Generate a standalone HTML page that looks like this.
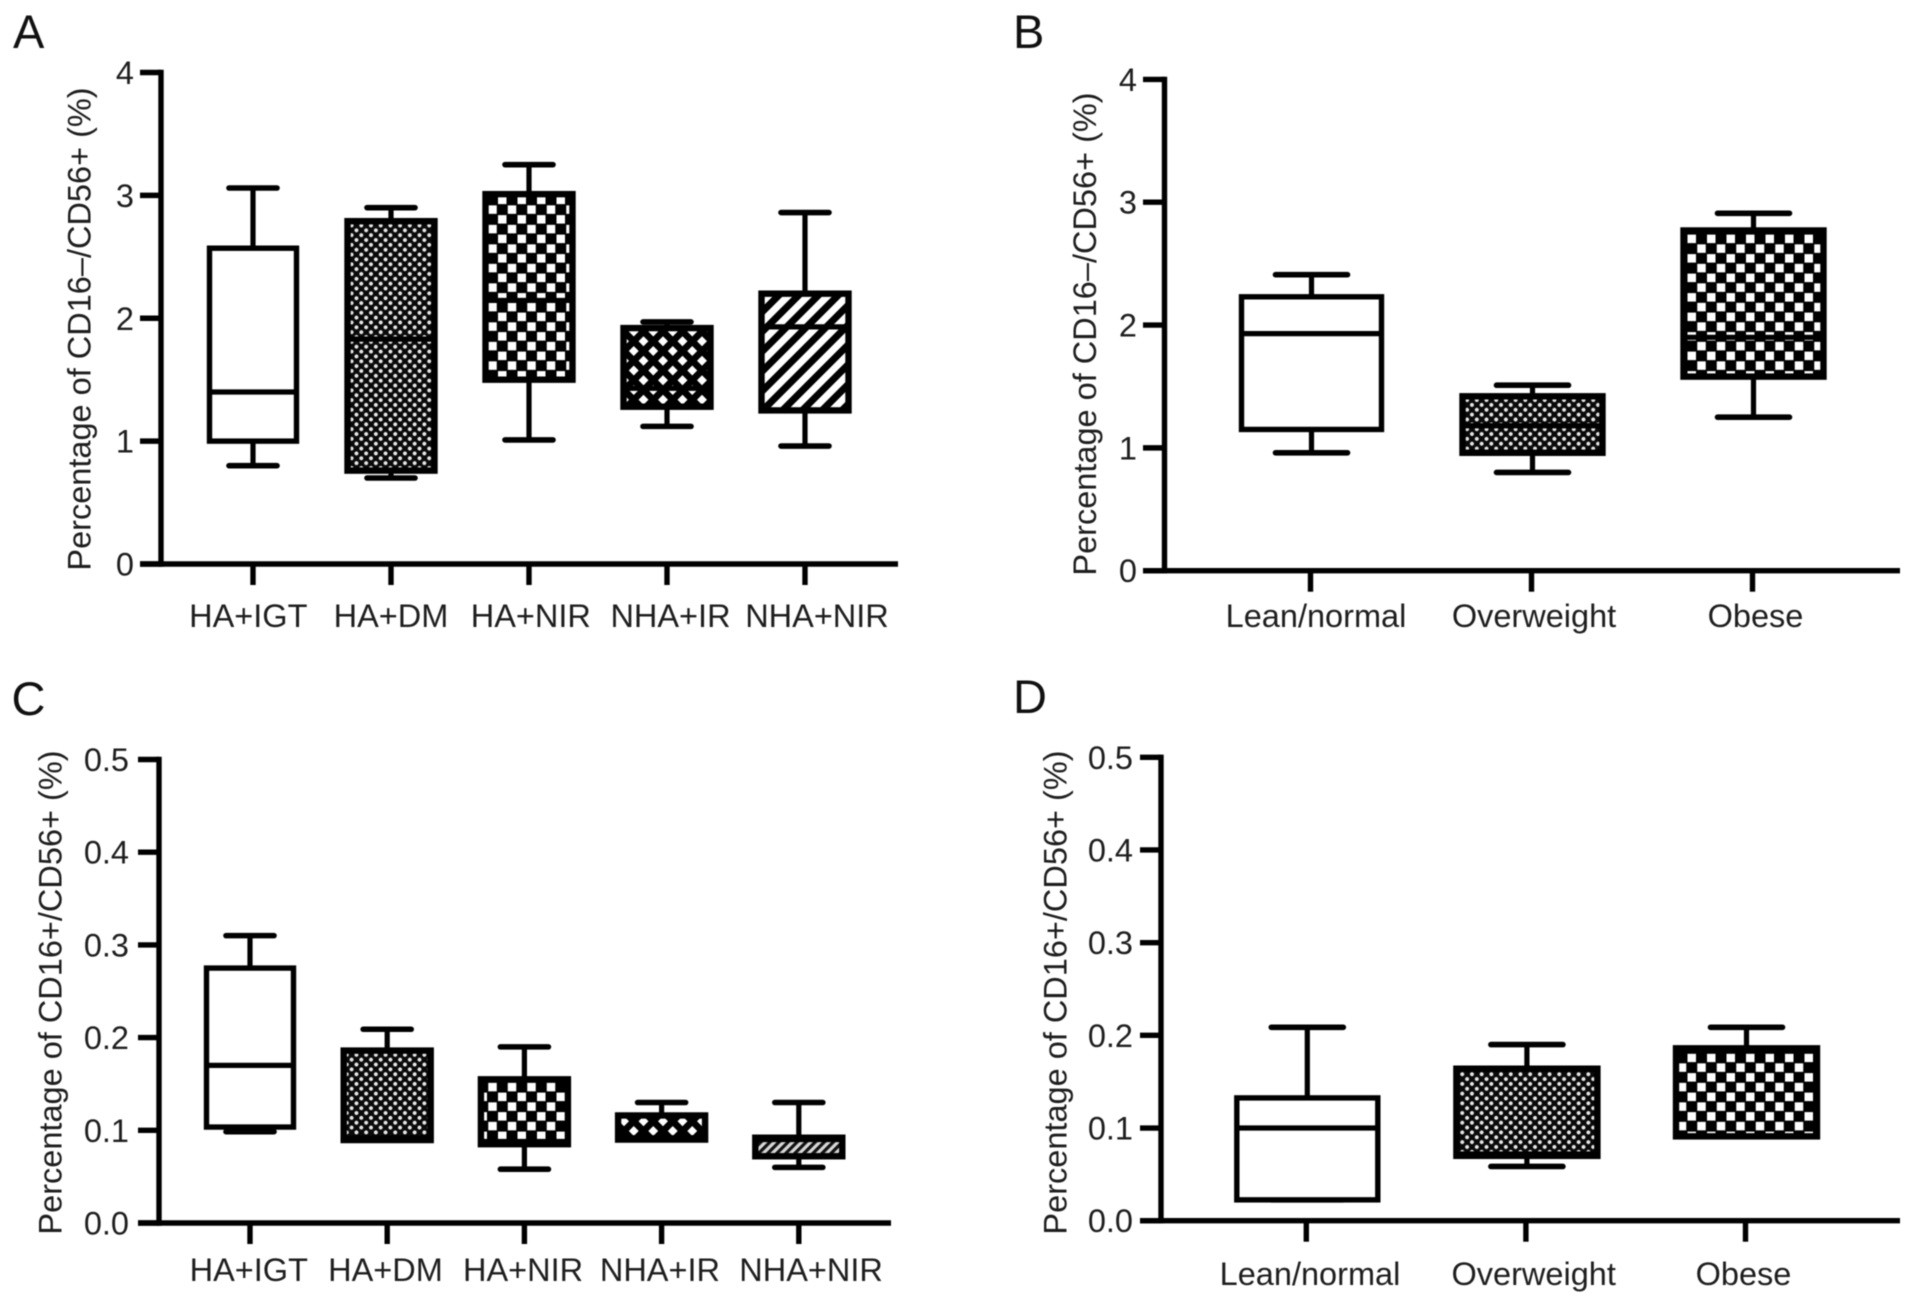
<!DOCTYPE html>
<html lang="en">
<head>
<meta charset="utf-8">
<title>CD16/CD56 box plots</title>
<style>
  html, body { margin: 0; padding: 0; background: #fff; }
  svg { display: block; filter: blur(0.55px); }
  text { font-family: "Liberation Sans", Arial, sans-serif; fill: #1e1e1e; }
  .panel-letter { font-size: 47px; fill: #111; }
</style>
</head>
<body>
<svg id="figure" xmlns="http://www.w3.org/2000/svg" width="1913" height="1305" viewBox="0 0 1913 1305">
  <defs>
    <pattern id="fill-check" patternUnits="userSpaceOnUse" width="19.5" height="19.5">
      <rect width="19.5" height="19.5" fill="#000"/>
      <rect x="10.5" y="0.6" width="8.5" height="8.5" fill="#fff"/>
      <rect x="0.75" y="10.35" width="8.5" height="8.5" fill="#fff"/>
    </pattern>
    <pattern id="fill-dots" patternUnits="userSpaceOnUse" width="9.7" height="9.7">
      <rect width="9.7" height="9.7" fill="#0a0a0a"/>
      <circle cx="2.4" cy="2.4" r="2" fill="#e8e8e8"/>
      <circle cx="7.25" cy="7.25" r="2" fill="#e8e8e8"/>
    </pattern>
    <pattern id="fill-cross" patternUnits="userSpaceOnUse" width="19.5" height="19.5">
      <rect width="19.5" height="19.5" fill="#fff"/>
      <path d="M-5,-5 L25,25 M-5,14.5 L5,24.5 M14.5,-5 L24.5,5 M24.5,-5 L-5,24.5 M5,-5 L-5,5 M24.5,14.5 L14.5,24.5" stroke="#000" stroke-width="6.8" fill="none"/>
    </pattern>
    <pattern id="fill-stripes" patternUnits="userSpaceOnUse" width="14" height="14" patternTransform="rotate(45)">
      <rect width="14" height="14" fill="#fff"/>
      <rect width="7" height="14" fill="#000"/>
    </pattern>
    <pattern id="fill-fine-stripes" patternUnits="userSpaceOnUse" width="6.4" height="6.4" patternTransform="rotate(45)">
      <rect width="6.4" height="6.4" fill="#d8d8d8"/>
      <rect width="3.2" height="6.4" fill="#111"/>
    </pattern>
  </defs>
  <rect width="1913" height="1305" fill="#fff"/>
  <text class="panel-letter" x="13" y="48">A</text>
  <text class="panel-letter" x="1013" y="48">B</text>
  <text class="panel-letter" x="11.5" y="715">C</text>
  <text class="panel-letter" x="1013" y="713">D</text>
</svg>
<script>
// ---- Panel A data ----
const panelACategories = ['HA+IGT', 'HA+DM', 'HA+NIR', 'NHA+IR', 'NHA+NIR'];
const panelAWhiskerHigh = [3.06, 2.90, 3.25, 1.97, 2.86];
const panelAQ3 = [2.57, 2.79, 3.01, 1.92, 2.20];
const panelAMedian = [1.40, 1.83, 2.145, 1.43, 1.93];
const panelAQ1 = [1.00, 0.76, 1.50, 1.28, 1.25];
const panelAWhiskerLow = [0.80, 0.70, 1.01, 1.12, 0.96];
const panelATickValues = [0, 1, 2, 3, 4];
const panelATickLabels = ['0', '1', '2', '3', '4'];

// ---- Panel B data ----
const panelBCategories = ['Lean/normal', 'Overweight', 'Obese'];
const panelBWhiskerHigh = [2.41, 1.51, 2.91];
const panelBQ3 = [2.23, 1.42, 2.77];
const panelBMedian = [1.93, 1.18, 1.90];
const panelBQ1 = [1.15, 0.96, 1.58];
const panelBWhiskerLow = [0.96, 0.80, 1.25];
const panelBTickValues = [0, 1, 2, 3, 4];
const panelBTickLabels = ['0', '1', '2', '3', '4'];

// ---- Panel C data ----
const panelCCategories = ['HA+IGT', 'HA+DM', 'HA+NIR', 'NHA+IR', 'NHA+NIR'];
const panelCWhiskerHigh = [0.31, 0.209, 0.19, 0.13, 0.13];
const panelCQ3 = [0.275, 0.186, 0.155, 0.116, 0.092];
const panelCMedian = [0.17, 0.092, 0.088, 0.092, 0.09];
const panelCQ1 = [0.1035, 0.0895, 0.085, 0.09, 0.072];
const panelCWhiskerLow = [0.0985, 0.0895, 0.058, 0.09, 0.06];
const panelCTickValues = [0, 0.1, 0.2, 0.3, 0.4, 0.5];
const panelCTickLabels = ['0.0', '0.1', '0.2', '0.3', '0.4', '0.5'];

// ---- Panel D data ----
const panelDCategories = ['Lean/normal', 'Overweight', 'Obese'];
const panelDWhiskerHigh = [0.2087, 0.19, 0.2087];
const panelDQ3 = [0.1325, 0.164, 0.186];
const panelDMedian = [0.10, 0.072, 0.183];
const panelDQ1 = [0.0225, 0.07, 0.091];
const panelDWhiskerLow = [0.0225, 0.0585, 0.091];
const panelDTickValues = [0, 0.1, 0.2, 0.3, 0.4, 0.5];
const panelDTickLabels = ['0.0', '0.1', '0.2', '0.3', '0.4', '0.5'];

const NS = 'http://www.w3.org/2000/svg';
const root = document.getElementById('figure');

function make(tag, attrs, parent) {
  const el = document.createElementNS(NS, tag);
  for (const k in attrs) el.setAttribute(k, attrs[k]);
  parent.appendChild(el);
  return el;
}

function drawPanel(p) {
  const g = make('g', {}, root);
  
  

  const yScale = v => p.y0 - (v / p.yMax) * p.yLen;
  const xScale = i => p.x0 + i * p.step;
  const black = '#000';
  const yTop = yScale(p.yMax);

  // y-axis title
  const title = make('text', {
    x: 0, y: 0, 'font-size': 32.5, 'text-anchor': 'middle',
    transform: 'translate(' + p.titleX + ' ' + p.titleY + ') rotate(-90)'
  }, g);
  title.textContent = p.title;
  
  

  // axes
  const yAxis = make('line', { x1: p.axisX, x2: p.axisX, y1: yTop - 2.7, y2: p.y0 + 2.7, stroke: black, 'stroke-width': 5.4 }, g);
  
  

  const xAxis = make('line', { x1: p.tickStart, x2: p.axisEnd, y1: p.y0, y2: p.y0, stroke: black, 'stroke-width': 5.4 }, g);
  
  

  // y ticks
  p.tickValues.forEach((v, i) => {
    const t = make('line', { x1: p.tickStart, x2: p.axisX, y1: yScale(v), y2: yScale(v), stroke: black, 'stroke-width': 5.4 }, g);
    
    

    const lab = make('text', { x: p.tickTextX, y: yScale(v) + 11.5, 'font-size': 32.5, 'text-anchor': 'end' }, g);
    lab.textContent = p.tickLabels[i];
    
    
  });

  // boxes
  p.categories.forEach((c, i) => {
    const tx = xScale(i);
    const cx = tx + p.boxDx;
    const slug = c.toLowerCase().replace(/[^a-z]+/g, '-');

    const tick = make('line', { x1: tx, x2: tx, y1: p.y0, y2: p.y0 + 21, stroke: black, 'stroke-width': 5.4 }, g);
    
    

    const lab = make('text', { x: tx + p.labelDx[i], y: p.labelY, 'font-size': 32.5, 'text-anchor': 'middle' }, g);
    lab.textContent = c;
    
    

    const hi = yScale(p.whiskerHigh[i]);
    const lo = yScale(p.whiskerLow[i]);
    const q3 = yScale(p.q3[i]);
    const q1 = yScale(p.q1[i]);
    const md = yScale(p.median[i]);

    const stem = make('line', { x1: cx, x2: cx, y1: hi, y2: lo, stroke: black, 'stroke-width': 5.2 }, g);
    
    

    const capHi = make('line', { x1: cx - p.capHalf, x2: cx + p.capHalf, y1: hi, y2: hi, stroke: black, 'stroke-width': 5.6, 'stroke-linecap': 'round' }, g);
    
    

    const capLo = make('line', { x1: cx - p.capHalf, x2: cx + p.capHalf, y1: lo, y2: lo, stroke: black, 'stroke-width': 5.6, 'stroke-linecap': 'round' }, g);
    
    

    const box = make('rect', {
      x: cx - p.boxW / 2, y: q3, width: p.boxW, height: q1 - q3,
      fill: p.fills[i], stroke: black, 'stroke-width': p.fills[i] === '#fff' ? 5.4 : 6.4
    }, g);
    
    

    const med = make('line', { x1: cx - p.boxW / 2, x2: cx + p.boxW / 2, y1: md, y2: md, stroke: black, 'stroke-width': 5.2 }, g);
    
    
  });
}

drawPanel({
  id: 'a', title: 'Percentage of CD16\u2013/CD56+ (%)', titleX: 90.7, titleY: 329,
  categories: panelACategories, whiskerHigh: panelAWhiskerHigh, q3: panelAQ3, median: panelAMedian, q1: panelAQ1, whiskerLow: panelAWhiskerLow,
  tickValues: panelATickValues, tickLabels: panelATickLabels, yMax: 4,
  y0: 564, yLen: 491.5, axisX: 161, axisEnd: 898, tickStart: 140, tickTextX: 134,
  x0: 253, step: 138, boxDx: 0, boxW: 87, capHalf: 24, labelY: 627,
  labelDx: [-4.7, 0, 1.8, 3.5, 12],
  fills: ['#fff', 'url(#fill-dots)', 'url(#fill-check)', 'url(#fill-cross)', 'url(#fill-stripes)']
});

drawPanel({
  id: 'b', title: 'Percentage of CD16\u2013/CD56+ (%)', titleX: 1096, titleY: 334,
  categories: panelBCategories, whiskerHigh: panelBWhiskerHigh, q3: panelBQ3, median: panelBMedian, q1: panelBQ1, whiskerLow: panelBWhiskerLow,
  tickValues: panelBTickValues, tickLabels: panelBTickLabels, yMax: 4,
  y0: 570.7, yLen: 491.3, axisX: 1164.5, axisEnd: 1900, tickStart: 1143, tickTextX: 1137,
  x0: 1310.5, step: 221, boxDx: 1, boxW: 140, capHalf: 36, labelY: 627,
  labelDx: [5.5, 2.5, 3],
  fills: ['#fff', 'url(#fill-dots)', 'url(#fill-check)']
});

drawPanel({
  id: 'c', title: 'Percentage of CD16+/CD56+ (%)', titleX: 61.7, titleY: 992.5,
  categories: panelCCategories, whiskerHigh: panelCWhiskerHigh, q3: panelCQ3, median: panelCMedian, q1: panelCQ1, whiskerLow: panelCWhiskerLow,
  tickValues: panelCTickValues, tickLabels: panelCTickLabels, yMax: 0.5,
  y0: 1223, yLen: 463.5, axisX: 159, axisEnd: 891, tickStart: 138, tickTextX: 129,
  x0: 250, step: 137.2, boxDx: 0, boxW: 87, capHalf: 24, labelY: 1281,
  labelDx: [-1.2, -1.7, -1.3, -1.7, 12.3],
  fills: ['#fff', 'url(#fill-dots)', 'url(#fill-check)', 'url(#fill-cross)', 'url(#fill-fine-stripes)']
});

drawPanel({
  id: 'd', title: 'Percentage of CD16+/CD56+ (%)', titleX: 1066.7, titleY: 992.5,
  categories: panelDCategories, whiskerHigh: panelDWhiskerHigh, q3: panelDQ3, median: panelDMedian, q1: panelDQ1, whiskerLow: panelDWhiskerLow,
  tickValues: panelDTickValues, tickLabels: panelDTickLabels, yMax: 0.5,
  y0: 1220.7, yLen: 463.4, axisX: 1161, axisEnd: 1900, tickStart: 1140, tickTextX: 1133,
  x0: 1306.3, step: 219.6, boxDx: 1, boxW: 141, capHalf: 36, labelY: 1285,
  labelDx: [3.7, 7.8, -2],
  fills: ['#fff', 'url(#fill-dots)', 'url(#fill-check)']
});
</script>
</body>
</html>
